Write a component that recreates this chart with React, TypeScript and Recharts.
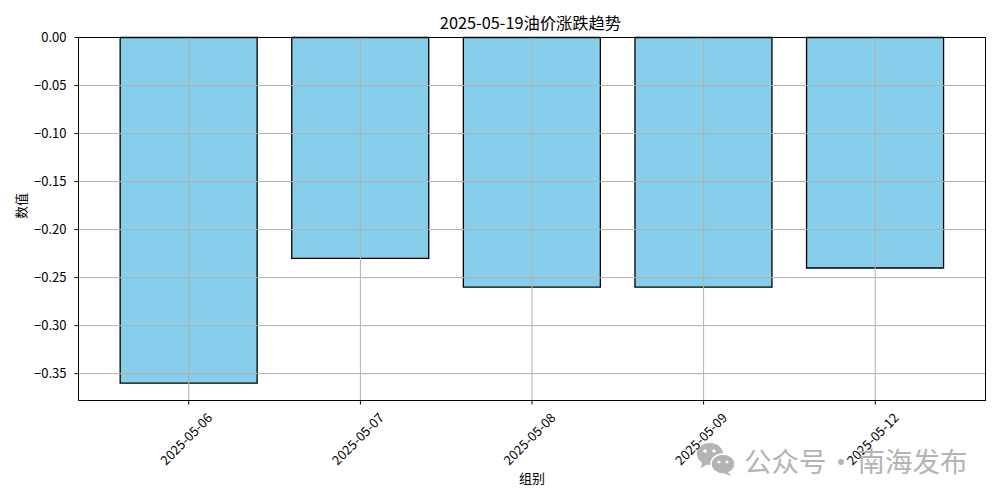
import { Bar, BarChart, CartesianGrid, XAxis, YAxis } from "recharts"

const dates = ["2025-05-06", "2025-05-07", "2025-05-08", "2025-05-09", "2025-05-12"]
const changes = [-0.36, -0.23, -0.26, -0.26, -0.24]
const yTicks = [0, -0.05, -0.1, -0.15, -0.2, -0.25, -0.3, -0.35]

const data = dates.map((date, i) => ({ date, value: changes[i] }))

const FONT = "'Noto Sans CJK SC', 'DejaVu Sans', sans-serif"
const WATERMARK = "#b4b4b4"

// label turns around its own middle, like matplotlib's rotation=45
function DateTick({ x, y, payload }: any) {
  const cx = x - 2
  const cy = y + 33
  return (
    <text
      x={cx}
      y={cy}
      transform={`rotate(-45 ${cx} ${cy})`}
      dy={4}
      textAnchor="middle"
      fontSize={13}
      fontFamily={FONT}
      fill="#000"
    >
      {payload.value}
    </text>
  )
}

export default function App() {
  return (
    <div style={{ position: "absolute", left: 0, top: 0, width: 1000, height: 500, background: "#fff" }}>
      <BarChart
        width={1000}
        height={500}
        data={data}
        barCategoryGap="10%"
        margin={{ top: 37.5, right: 14.5, bottom: 0, left: 0 }}
      >
        <text x={530.5} y={29} textAnchor="middle" fontSize={16.3} fontFamily={FONT} fill="#000">
          2025-05-19油价涨跌趋势
        </text>
        <Bar dataKey="value" fill="#87ceeb" stroke="#000" strokeWidth={1.3} isAnimationActive={false} />
        <CartesianGrid stroke="#b0b0b0" strokeWidth={1} zIndex={400} />
        <XAxis
          dataKey="date"
          height={99.5}
          padding={{ left: 24.5, right: 24.5 }}
          tick={<DateTick />}
          tickSize={4}
          interval={0}
          stroke="#000"
          label={{ value: "组别", position: "insideBottom", offset: 17, fontSize: 13, fontFamily: FONT, fill: "#000" }}
        />
        <YAxis
          width={78.5}
          domain={[-0.378, 0]}
          ticks={yTicks}
          tickFormatter={(v: number) => v.toFixed(2).replace("-", "\u2212")}
          tick={{ fontSize: 13, fontFamily: FONT, fill: "#000" }}
          tickSize={4}
          tickMargin={8}
          stroke="#000"
          label={{ value: "数值", angle: -90, position: "insideLeft", offset: 21, fontSize: 13, fontFamily: FONT, fill: "#000" }}
        />
      </BarChart>
      {/* top and right spines of the plot frame */}
      <div
        style={{
          position: "absolute",
          left: 78,
          top: 37,
          width: 908,
          height: 364,
          boxSizing: "border-box",
          borderTop: "1px solid #000",
          borderRight: "1px solid #000",
          pointerEvents: "none",
        }}
      />
      <svg style={{ position: "absolute", left: 695, top: 441 }} width={42} height={36}>
        <ellipse cx={15} cy={13} rx={13} ry={11} fill={WATERMARK} />
        <path d="M7 20 L6 27 L13 23 Z" fill={WATERMARK} />
        <ellipse cx={28} cy={23} rx={12} ry={10} fill={WATERMARK} stroke="#fff" strokeWidth={1.5} />
        <path d="M33 31 L36 35 L28 32 Z" fill={WATERMARK} />
        <circle cx={10} cy={10} r={1.8} fill="#fff" />
        <circle cx={19} cy={10} r={1.8} fill="#fff" />
        <circle cx={24} cy={21} r={1.6} fill="#fff" />
        <circle cx={32} cy={21} r={1.6} fill="#fff" />
      </svg>
      <div
        style={{
          position: "absolute",
          left: 744,
          top: 440,
          fontSize: 27.5,
          color: WATERMARK,
          fontFamily: FONT,
          whiteSpace: "nowrap",
        }}
      >
        <span>公众号</span>
        <span style={{ display: "inline-block", width: 29, textAlign: "center" }}>·</span>
        <span style={{ marginLeft: 2 }}>南海发布</span>
      </div>
    </div>
  )
}
